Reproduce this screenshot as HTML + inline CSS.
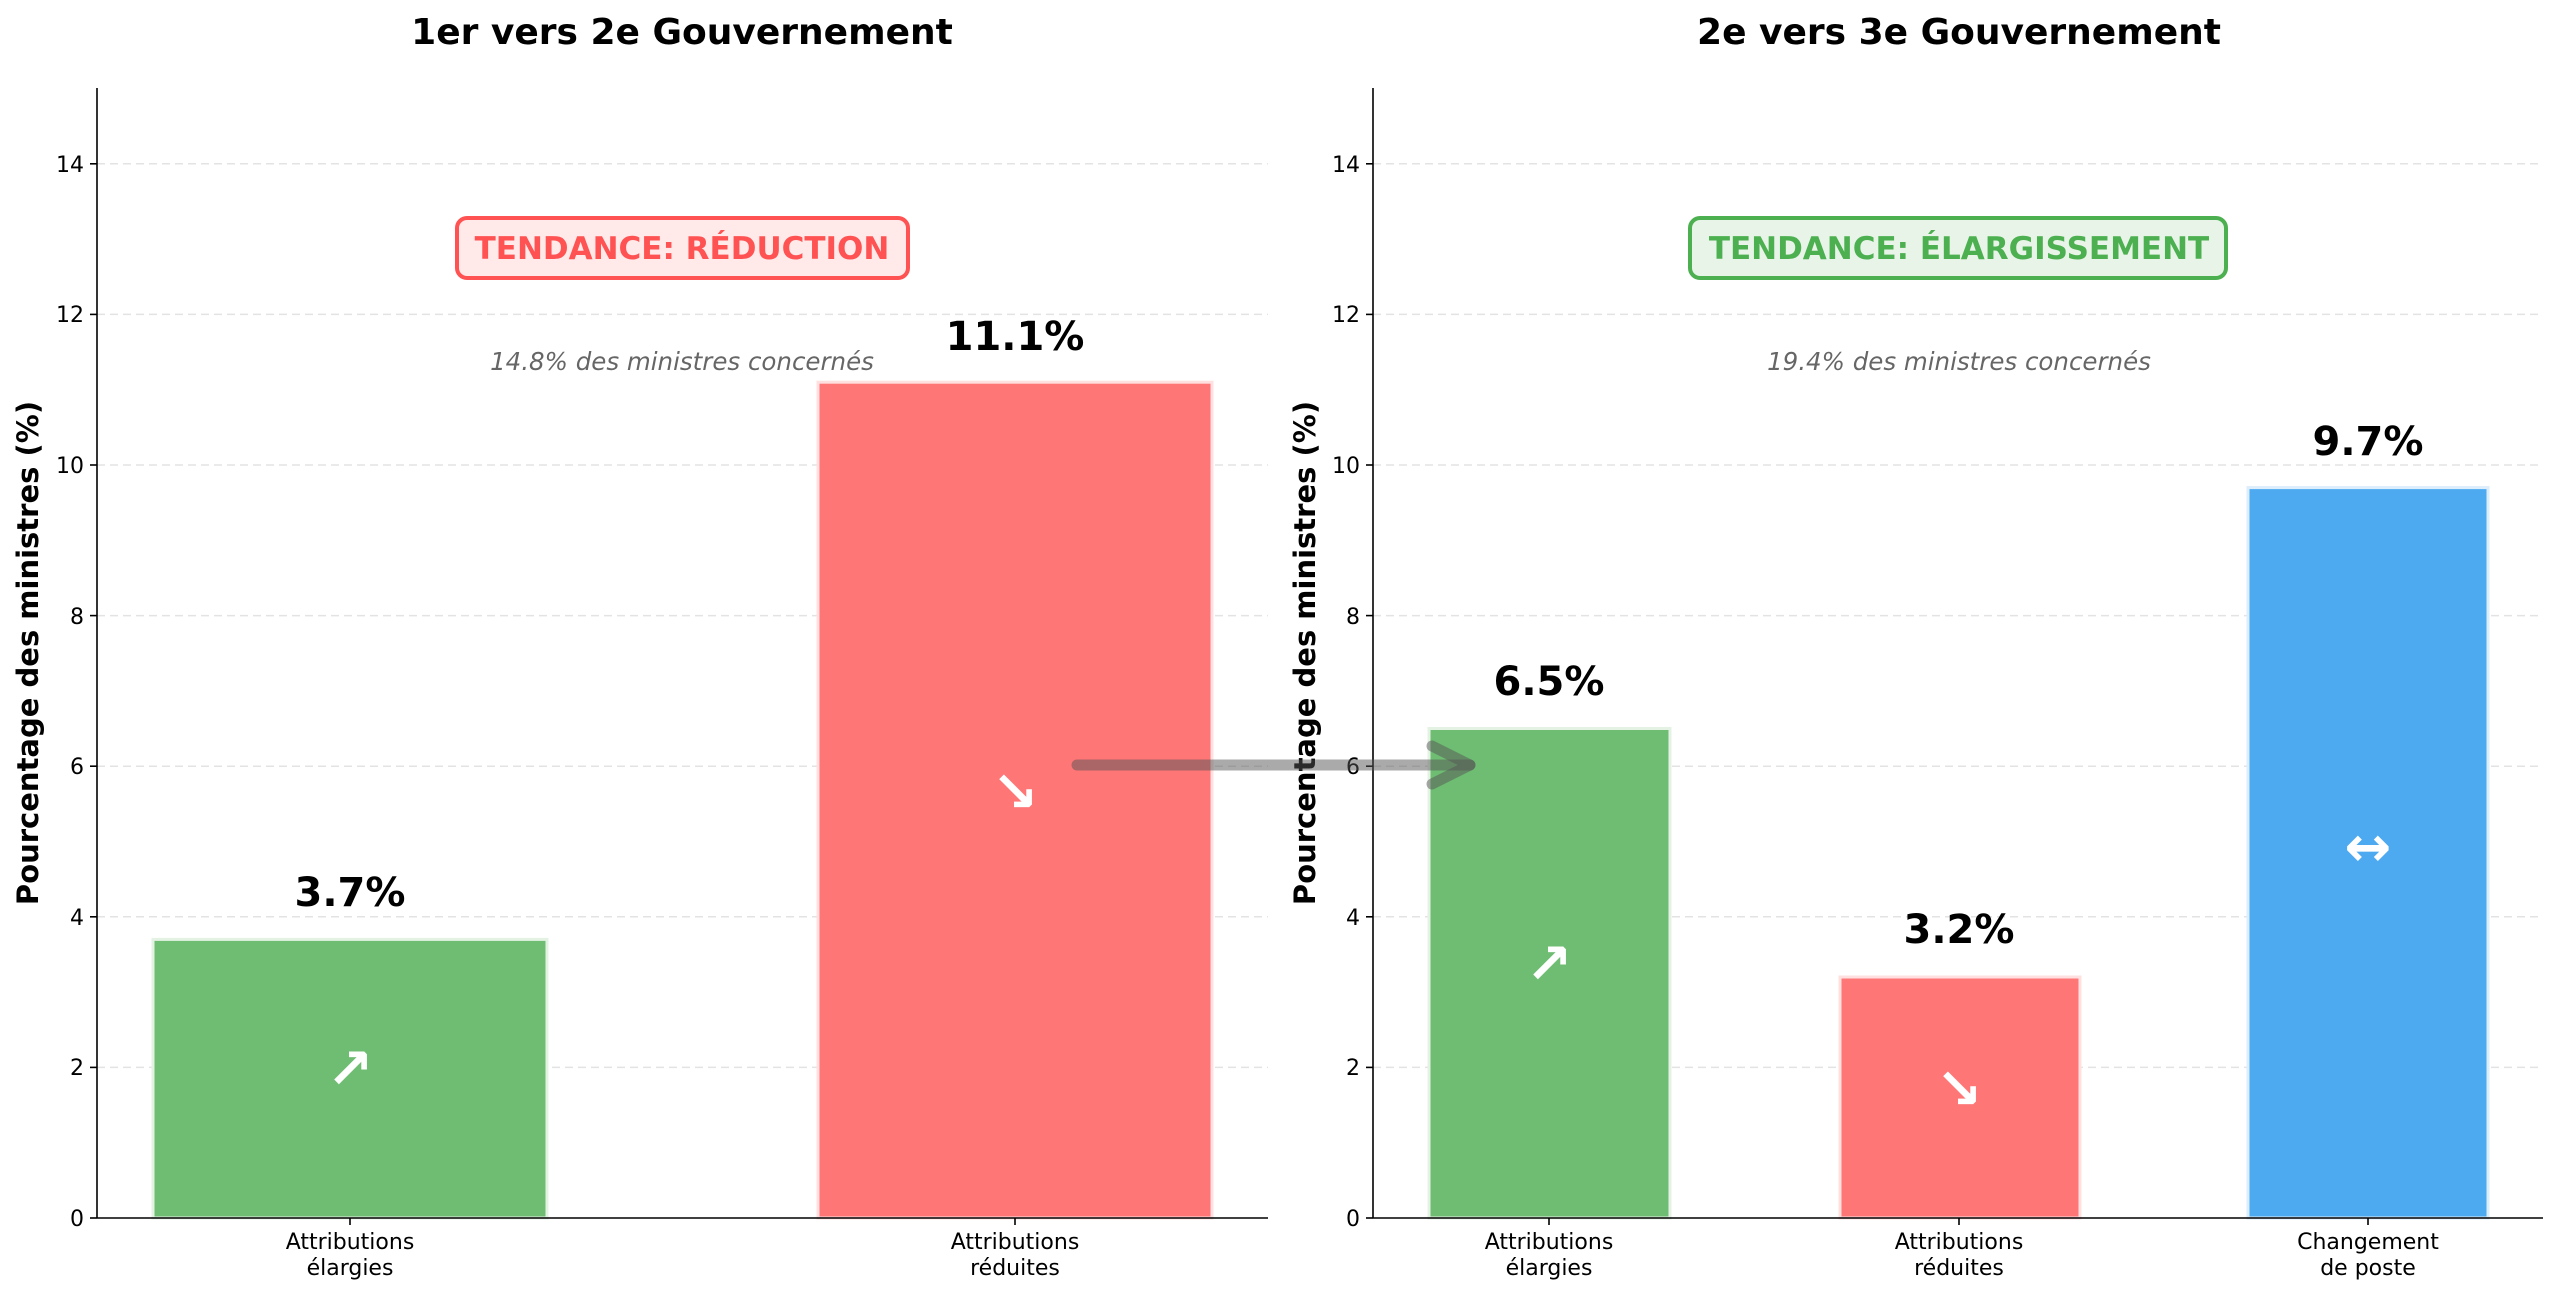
<!DOCTYPE html>
<html><head><meta charset="utf-8"><style>html,body{margin:0;padding:0;background:#fff}svg{display:block}text{font-family:"DejaVu Sans","Liberation Sans",sans-serif}</style></head>
<body>
<svg width="2560" height="1297" viewBox="0 0 2560 1297" xmlns="http://www.w3.org/2000/svg">
<g stroke="#e3e3e3" stroke-width="1.5" stroke-dasharray="8,5">
<line x1="97" x2="1268" y1="1067.4" y2="1067.4"/><line x1="97" x2="1268" y1="916.8" y2="916.8"/><line x1="97" x2="1268" y1="766.2" y2="766.2"/><line x1="97" x2="1268" y1="615.6" y2="615.6"/><line x1="97" x2="1268" y1="465" y2="465"/><line x1="97" x2="1268" y1="314.4" y2="314.4"/><line x1="97" x2="1268" y1="163.8" y2="163.8"/>
<line x1="1373" x2="2543" y1="1067.4" y2="1067.4"/><line x1="1373" x2="2543" y1="916.8" y2="916.8"/><line x1="1373" x2="2543" y1="766.2" y2="766.2"/><line x1="1373" x2="2543" y1="615.6" y2="615.6"/><line x1="1373" x2="2543" y1="465" y2="465"/><line x1="1373" x2="2543" y1="314.4" y2="314.4"/><line x1="1373" x2="2543" y1="163.8" y2="163.8"/>
</g>
<text x="682" y="44" font-size="36" font-weight="bold" text-anchor="middle">1er vers 2e Gouvernement</text>
<text x="1959" y="44" font-size="36" font-weight="bold" text-anchor="middle">2e vers 3e Gouvernement</text>
<rect x="153" y="939.4" width="394" height="278.6" fill="#6fbd73" stroke="#e4f2e4" stroke-width="3"/>
<rect x="818" y="382.2" width="394" height="835.8" fill="#ff7676" stroke="#ffe0e0" stroke-width="3"/>
<rect x="1429" y="728.5" width="241" height="489.5" fill="#6fbd73" stroke="#e4f2e4" stroke-width="3"/>
<rect x="1840" y="977" width="240" height="241" fill="#ff7676" stroke="#ffe0e0" stroke-width="3"/>
<rect x="2248" y="487.6" width="240" height="730.4" fill="#4daaf0" stroke="#dcedfb" stroke-width="3"/>
<g stroke="#000" stroke-width="1.6">
<line x1="97" y1="88" x2="97" y2="1218"/><line x1="97" y1="1218" x2="1268" y2="1218"/>
<line x1="1373" y1="88" x2="1373" y2="1218"/><line x1="1373" y1="1218" x2="2543" y2="1218"/>
<line x1="350" y1="1218" x2="350" y2="1225"/><line x1="1015" y1="1218" x2="1015" y2="1225"/>
<line x1="1549" y1="1218" x2="1549" y2="1225"/><line x1="1959" y1="1218" x2="1959" y2="1225"/><line x1="2368" y1="1218" x2="2368" y2="1225"/>
<line x1="90" x2="97" y1="1218" y2="1218"/><line x1="90" x2="97" y1="1067.4" y2="1067.4"/><line x1="90" x2="97" y1="916.8" y2="916.8"/><line x1="90" x2="97" y1="766.2" y2="766.2"/><line x1="90" x2="97" y1="615.6" y2="615.6"/><line x1="90" x2="97" y1="465" y2="465"/><line x1="90" x2="97" y1="314.4" y2="314.4"/><line x1="90" x2="97" y1="163.8" y2="163.8"/>
<line x1="1366" x2="1373" y1="1218" y2="1218"/><line x1="1366" x2="1373" y1="1067.4" y2="1067.4"/><line x1="1366" x2="1373" y1="916.8" y2="916.8"/><line x1="1366" x2="1373" y1="766.2" y2="766.2"/><line x1="1366" x2="1373" y1="615.6" y2="615.6"/><line x1="1366" x2="1373" y1="465" y2="465"/><line x1="1366" x2="1373" y1="314.4" y2="314.4"/><line x1="1366" x2="1373" y1="163.8" y2="163.8"/>
</g>
<g font-size="22" text-anchor="end">
<text x="84" y="1226">0</text><text x="84" y="1075">2</text><text x="84" y="925">4</text><text x="84" y="774">6</text><text x="84" y="624">8</text><text x="84" y="473">10</text><text x="84" y="322">12</text><text x="84" y="172">14</text>
<text x="1360" y="1226">0</text><text x="1360" y="1075">2</text><text x="1360" y="925">4</text><text x="1360" y="774">6</text><text x="1360" y="624">8</text><text x="1360" y="473">10</text><text x="1360" y="322">12</text><text x="1360" y="172">14</text>
</g>
<g font-size="22" text-anchor="middle">
<text x="350" y="1249">Attributions</text><text x="350" y="1275">élargies</text>
<text x="1015" y="1249">Attributions</text><text x="1015" y="1275">réduites</text>
<text x="1549" y="1249">Attributions</text><text x="1549" y="1275">élargies</text>
<text x="1959" y="1249">Attributions</text><text x="1959" y="1275">réduites</text>
<text x="2368" y="1249">Changement</text><text x="2368" y="1275">de poste</text>
</g>
<text transform="translate(38,653) rotate(-90)" font-size="29" font-weight="bold" text-anchor="middle">Pourcentage des ministres (%)</text>
<text transform="translate(1315,653) rotate(-90)" font-size="29" font-weight="bold" text-anchor="middle">Pourcentage des ministres (%)</text>
<g font-size="40" font-weight="bold" text-anchor="middle">
<text x="350" y="906">3.7%</text><text x="1015" y="350">11.1%</text>
<text x="1549" y="695">6.5%</text><text x="1959" y="943">3.2%</text><text x="2368" y="455">9.7%</text>
</g>
<g font-size="56" font-weight="bold" fill="#fff" text-anchor="middle">
<text x="350" y="1088">↗</text><text x="1015" y="811">↘</text>
<text x="1549" y="983">↗</text><text x="1959" y="1108">↘</text><text x="2368" y="866">↔</text>
</g>
<rect x="457" y="218" width="451" height="60" rx="10" fill="#ffe9e9" stroke="#ff5252" stroke-width="4"/>
<text x="682" y="259" font-size="31" font-weight="bold" fill="#ff5252" text-anchor="middle">TENDANCE: RÉDUCTION</text>
<rect x="1690" y="218" width="536" height="60" rx="10" fill="#e7f4e7" stroke="#4caf50" stroke-width="4"/>
<text x="1959" y="259" font-size="31" font-weight="bold" fill="#4caf50" text-anchor="middle">TENDANCE: ÉLARGISSEMENT</text>
<text x="682" y="370" font-size="24.5" font-style="italic" fill="#666" text-anchor="middle">14.8% des ministres concernés</text>
<text x="1959" y="370" font-size="24.5" font-style="italic" fill="#666" text-anchor="middle">19.4% des ministres concernés</text>
<g stroke="#555" stroke-opacity="0.5" stroke-width="11" stroke-linecap="round" fill="none" stroke-linejoin="round">
<line x1="1077" y1="765" x2="1470" y2="765"/>
<polyline points="1432,746 1470,765 1432,784"/>
</g>
</svg>
</body></html>
